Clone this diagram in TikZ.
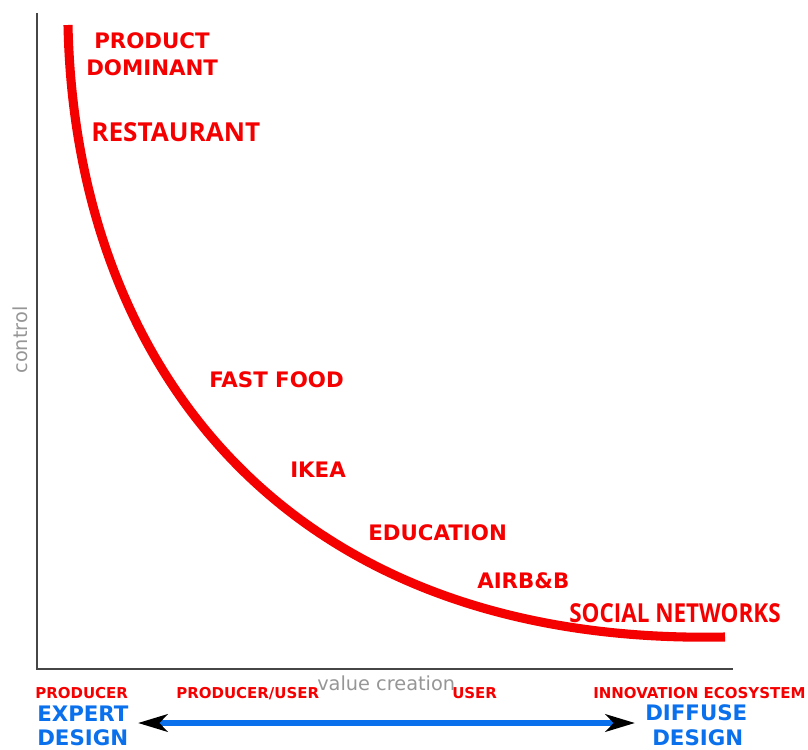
\documentclass[tikz,border=0pt]{standalone}
\usepackage{fontspec}
\setmainfont{DejaVu Sans}
\newfontfamily\opensans{Open Sans}
\usetikzlibrary{arrows.meta}
\definecolor{lblred}{RGB}{245,0,0}
\definecolor{lblblue}{RGB}{10,112,235}
\definecolor{axisgray}{RGB}{70,70,70}
\definecolor{txtgray}{RGB}{150,150,150}
\tikzset{
  lbl/.style={anchor=base west, inner sep=0pt, text=lblred, font=\fontsize{16}{16}\selectfont\bfseries},
  lblos/.style={anchor=base west, inner sep=0pt, text=lblred, font=\fontsize{19.6}{19.6}\selectfont\opensans\bfseries},
  small/.style={anchor=base west, inner sep=0pt, text=lblred, font=\fontsize{11.25}{11.25}\selectfont\bfseries},
  bluelbl/.style={anchor=base west, inner sep=0pt, text=lblblue, font=\fontsize{16}{16}\selectfont\bfseries},
  axis/.style={draw=axisgray, line width=1.5pt},
  curve/.style={draw=lblred, line width=6.8pt},
  axlbl/.style={inner sep=0pt, text=txtgray, font=\fontsize{14.5}{14.5}\selectfont},
}
\begin{document}
\begin{tikzpicture}[x=0.75pt,y=-0.75pt]
\useasboundingbox (0,0) rectangle (808,750);
% axes
\coordinate (top) at (37,13);
\coordinate (orig) at (37,669);
\coordinate (right) at (733,669);
\draw[axis] (top) -- (orig) -- (right);
% curve
\coordinate (cs) at (68,25);
\coordinate (ce) at (725,637);
\draw[curve] (cs) .. controls (75,360) and (280,646) .. (ce);
% labels on curve
\node[lbl] (pd1) at (94,48) {PRODUCT};
\node[lbl] (pd2) at (86,75) {DOMINANT};
\node[lblos] (rest) at (91,141) {RESTAURANT};
\node[lbl] (ff) at (209,387) {FAST FOOD};
\node[lbl] (ikea) at (290,477) {IKEA};
\node[lbl] (edu) at (368,540) {EDUCATION};
\node[lbl] (air) at (477,588) {AIRB\&B};
\node[lblos] (soc) at (569,622) {\scalebox{0.86}[1]{SOCIAL NETWORKS}};
% axis labels
\node[axlbl, rotate=90] (ctrl) at (20,340) {control};
\node[axlbl, anchor=base west] (vc) at (317,690) {value creation};
% bottom labels
\node[small] (prod) at (35,698) {PRODUCER};
\node[small] (pu) at (176,698) {PRODUCER/USER};
\node[small] (user) at (452,698) {USER};
\node[small] (inn) at (593,698) {INNOVATION ECOSYSTEM};
\node[bluelbl] (exp) at (37,721) {EXPERT};
\node[bluelbl] (des1) at (37,745.5) {DESIGN};
\node[bluelbl] (dif) at (645,720) {DIFFUSE};
\node[bluelbl] (des2) at (652,745.5) {DESIGN};
% arrow
\coordinate (aL) at (138,723);
\coordinate (aR) at (635,723);
\draw[draw=lblblue, line width=4.5pt,
  arrows={Stealth[length=22pt,width=13pt,inset=6pt,black]-Stealth[length=22pt,width=13pt,inset=6pt,black]}] (aL) -- (aR);
\end{tikzpicture}
\end{document}
